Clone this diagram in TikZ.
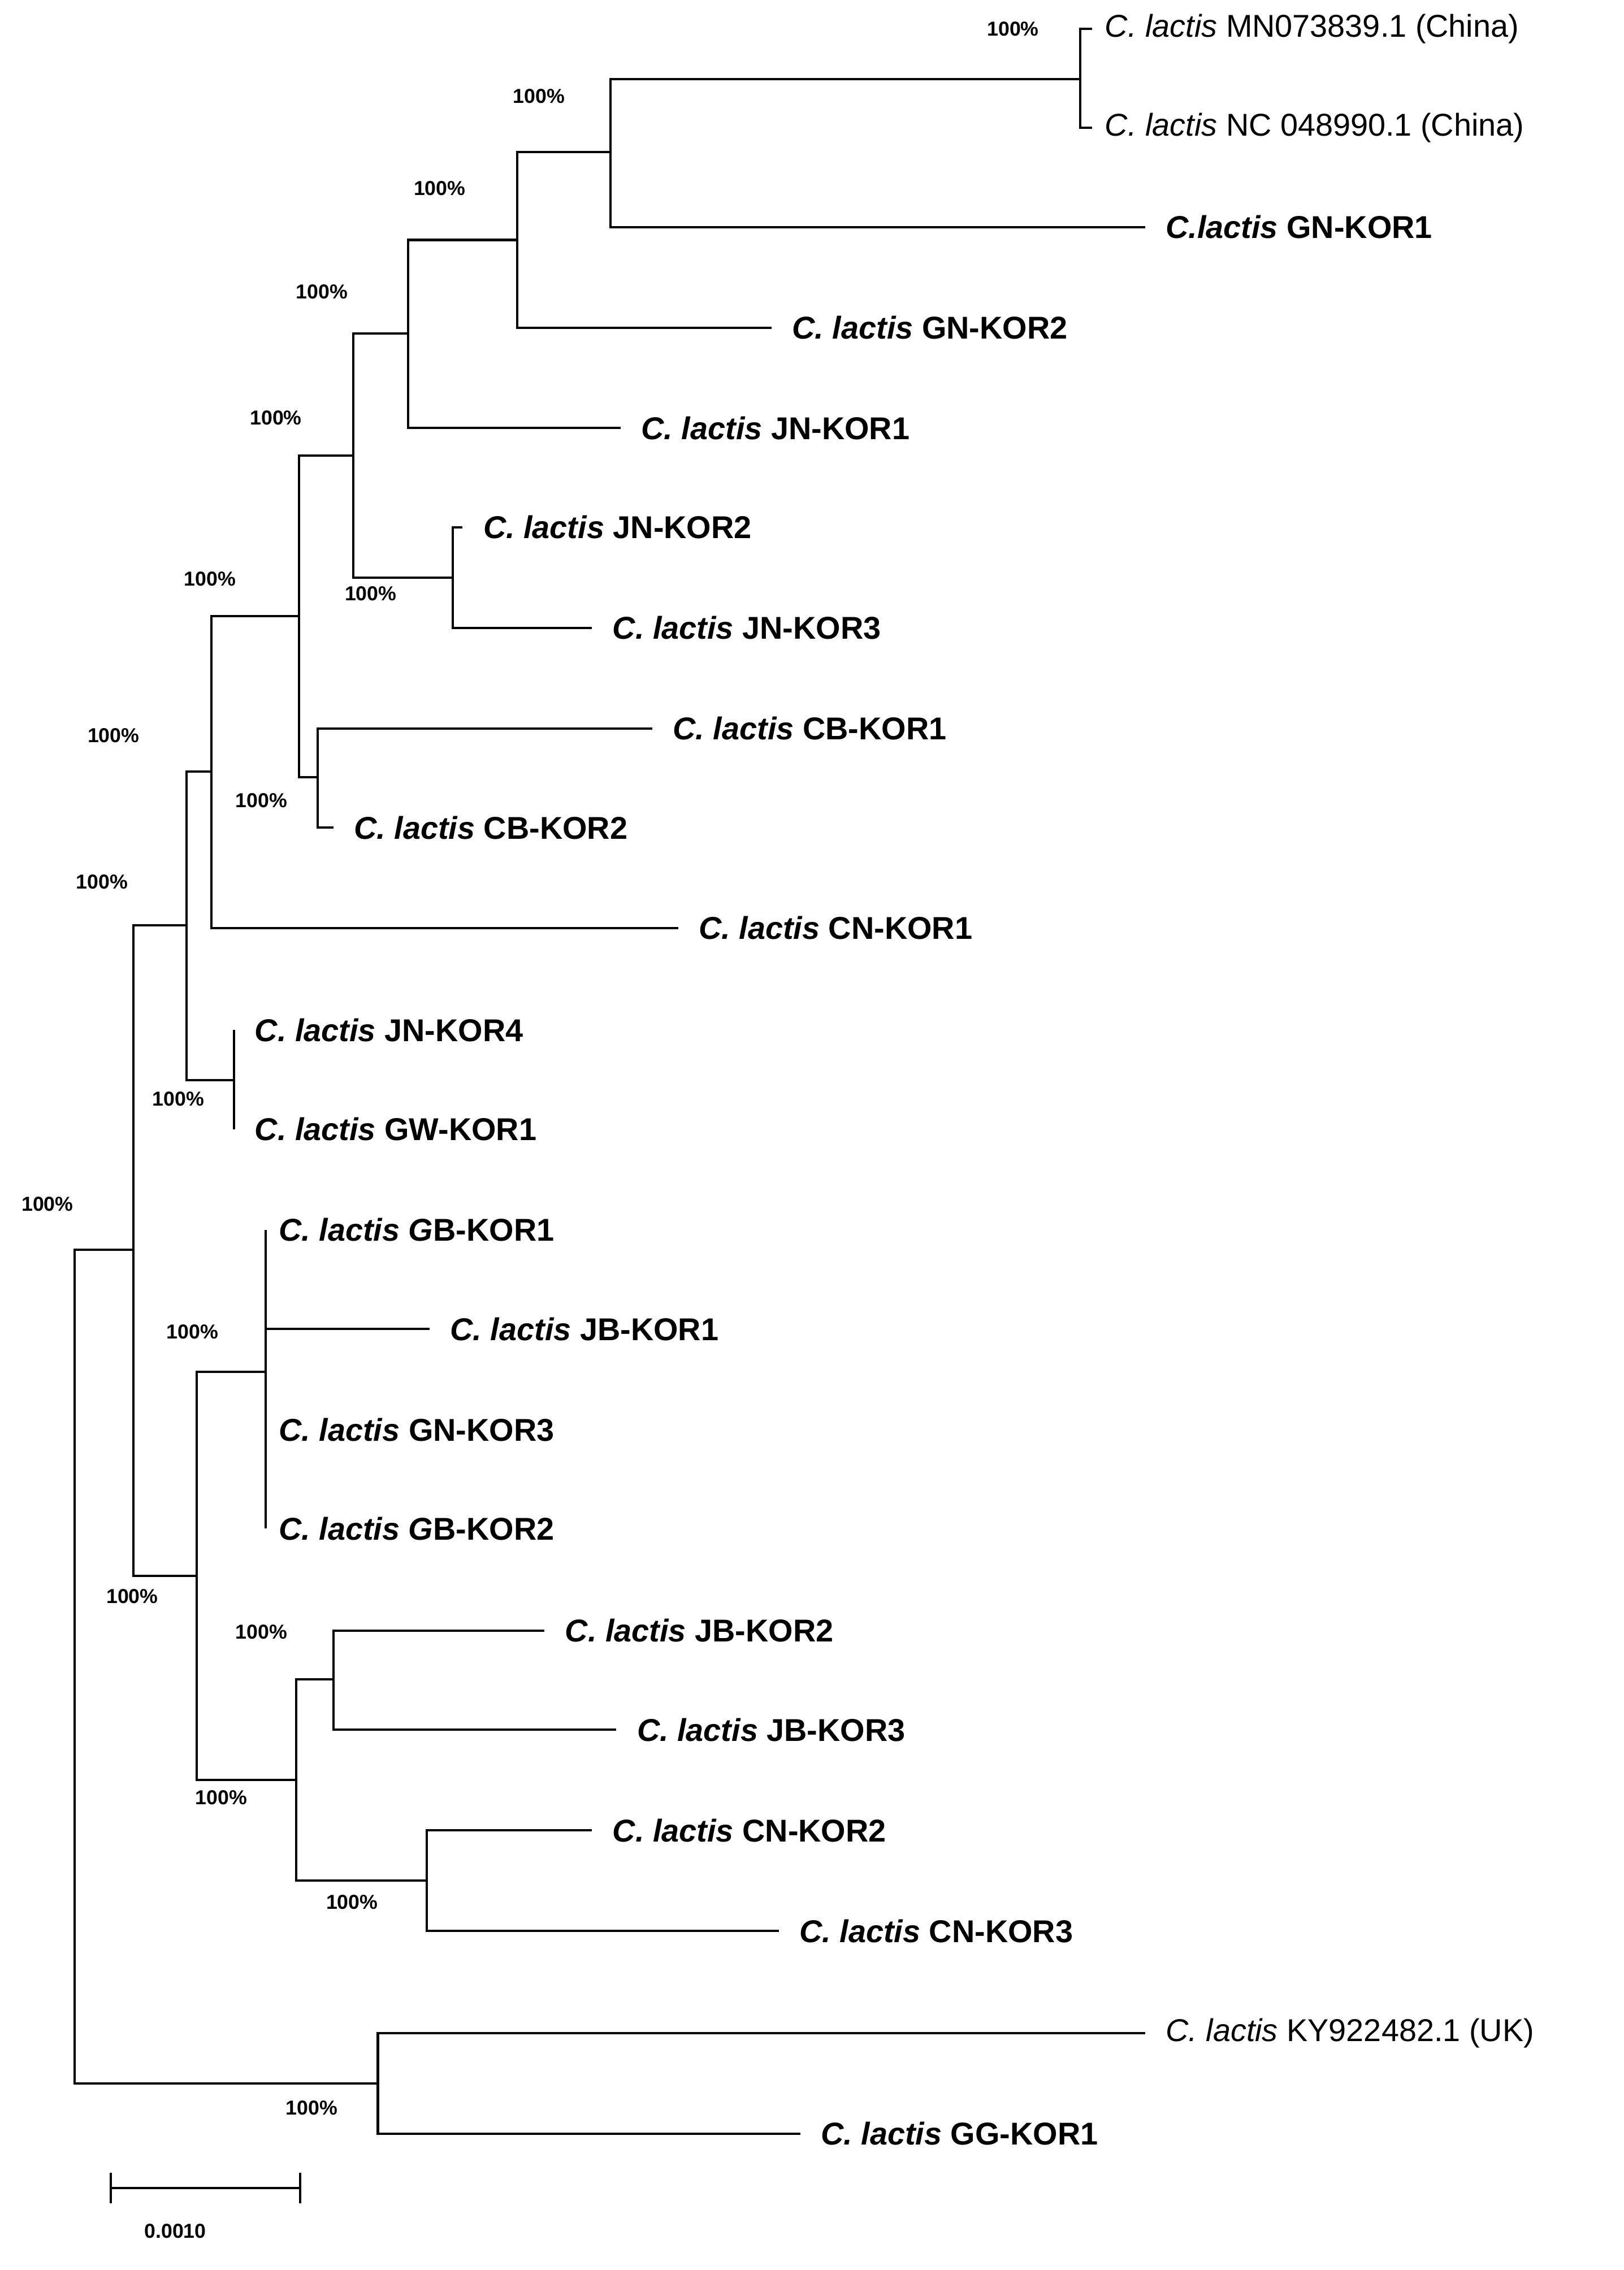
\documentclass[tikz,border=0pt]{standalone}
\usepackage{fontspec}
\setmainfont{Liberation Sans}
\begin{document}
\begin{tikzpicture}[x=0.02cm,y=-0.02cm,
  br/.style={line width=0.9pt},
  lab/.style={anchor=west,inner sep=0pt,font=\fontsize{12.5}{14}\selectfont},
  bs/.style={font=\fontsize{8}{9}\selectfont\bfseries,inner sep=0pt}]
\useasboundingbox (0,0) rectangle (1130,1580);
% leaves
\foreach \n/\x/\y in {a/760/20,b/760/89,c/797/158,d/537/228,e/432/298,f/322/367,g/412/437,h/454/507,i/232/576,j/472/646,k/163/717,l/163/786,m/185/856,n/299/925,o/185/995,p/185/1064,q/379/1135,r/429/1204,s/412/1274,t/542/1344,u/797/1415,v/557/1485}
  \coordinate (\n) at (\x,\y);
\node[lab] (ta) at ([xshift=5]a) {\textit{C. lactis} MN073839.1 (China)};
\node[lab] (tb) at ([xshift=5]b) {\textit{C. lactis} NC 048990.1 (China)};
\node[lab] (tc) at ([xshift=8]c) {\bfseries\textit{C.lactis} GN-KOR1};
\node[lab] (td) at ([xshift=8]d) {\bfseries\textit{C. lactis} GN-KOR2};
\node[lab] (te) at ([xshift=8]e) {\bfseries\textit{C. lactis} JN-KOR1};
\node[lab] (tf) at ([xshift=8]f) {\bfseries\textit{C. lactis} JN-KOR2};
\node[lab] (tg) at ([xshift=8]g) {\bfseries\textit{C. lactis} JN-KOR3};
\node[lab] (th) at ([xshift=8]h) {\bfseries\textit{C. lactis} CB-KOR1};
\node[lab] (ti) at ([xshift=8]i) {\bfseries\textit{C. lactis} CB-KOR2};
\node[lab] (tj) at ([xshift=8]j) {\bfseries\textit{C. lactis} CN-KOR1};
\node[lab] (tk) at ([xshift=8]k) {\bfseries\textit{C. lactis} JN-KOR4};
\node[lab] (tl) at ([xshift=8]l) {\bfseries\textit{C. lactis} GW-KOR1};
\node[lab] (tm) at ([xshift=5]m) {\bfseries\textit{C. lactis G}B-KOR1};
\node[lab] (tn) at ([xshift=8]n) {\bfseries\textit{C. lactis} JB-KOR1};
\node[lab] (to) at ([xshift=5]o) {\bfseries\textit{C. lactis} GN-KOR3};
\node[lab] (tp) at ([xshift=5]p) {\bfseries\textit{C. lactis G}B-KOR2};
\node[lab] (tq) at ([xshift=8]q) {\bfseries\textit{C. lactis} JB-KOR2};
\node[lab] (tr) at ([xshift=8]r) {\bfseries\textit{C. lactis} JB-KOR3};
\node[lab] (ts) at ([xshift=8]s) {\bfseries\textit{C. lactis} CN-KOR2};
\node[lab] (tt) at ([xshift=8]t) {\bfseries\textit{C. lactis} CN-KOR3};
\node[lab] (tu) at ([xshift=8]u) {\textit{C. lactis} KY922482.1 (UK)};
\node[lab] (tv) at ([xshift=8]v) {\bfseries\textit{C. lactis} GG-KOR1};
% internal nodes
\coordinate (nab) at (752,55);
\coordinate (n1) at (425,106);
\coordinate (n2) at (360,167);
\coordinate (n3) at (284,232);
\coordinate (nfg) at (315,402);
\coordinate (n4) at (246,317);
\coordinate (nhi) at (221,541);
\coordinate (n5) at (208,429);
\coordinate (n6) at (147,537);
\coordinate (nkl) at (163,752);
\coordinate (n7) at (130,644);
\coordinate (ngb) at (185,955);
\coordinate (nqr) at (232,1169);
\coordinate (nst) at (297,1309);
\coordinate (n8) at (206,1239);
\coordinate (n9) at (137,1097);
\coordinate (n10) at (93,870);
\coordinate (nuv) at (263,1450);
\coordinate (root) at (52,1160);
\draw[br] (nab) |- (a); \draw[br] (nab) |- (b);
\draw[br] (n1) |- (nab); \draw[br] (n1) |- (c);
\draw[br] (n2) |- (n1); \draw[br] (n2) |- (d);
\draw[br] (n3) |- (n2); \draw[br] (n3) |- (e);
\draw[br] (nfg) |- (f); \draw[br] (nfg) |- (g);
\draw[br] (n4) |- (n3); \draw[br] (n4) |- (nfg);
\draw[br] (nhi) |- (h); \draw[br] (nhi) |- (i);
\draw[br] (n5) |- (n4); \draw[br] (n5) |- (nhi);
\draw[br] (n6) |- (n5); \draw[br] (n6) |- (j);
\draw[br] (nkl) |- (k); \draw[br] (nkl) |- (l);
\draw[br] (n7) |- (n6); \draw[br] (n7) |- (nkl);
\draw[br] (ngb) |- (m); \draw[br] (ngb) |- (n); \draw[br] (ngb) |- (o); \draw[br] (ngb) |- (p);
\draw[br] (nqr) |- (q); \draw[br] (nqr) |- (r);
\draw[br] (nst) |- (s); \draw[br] (nst) |- (t);
\draw[br] (n8) |- (nqr); \draw[br] (n8) |- (nst);
\draw[br] (n9) |- (ngb); \draw[br] (n9) |- (n8);
\draw[br] (n10) |- (n7); \draw[br] (n10) |- (n9);
\draw[br] (nuv) |- (u); \draw[br] (nuv) |- (v);
\draw[br] (root) |- (n10); \draw[br] (root) |- (nuv);
% bootstrap labels
\foreach \x/\y [count=\i] in {705/20,375/67,306/131,224/203,192/291,146/403,79/512,258/413,182/557,71/614,124/765,33/838,134/927,92/1111,182/1136,154/1251,245/1324,217/1467}
  \node[bs] (bs\i) at (\x,\y) {100\%};
% scale bar
\coordinate (s1) at (77,1523); \coordinate (s2) at (209,1523);
\draw[br] (s1) -- (s2);
\draw[br] ([yshift=6]s1) -- ([yshift=-6]s1);
\draw[br] ([yshift=6]s2) -- ([yshift=-6]s2);
\node[bs] (sl) at (122,1553) {0.0010};
\end{tikzpicture}
\end{document}
